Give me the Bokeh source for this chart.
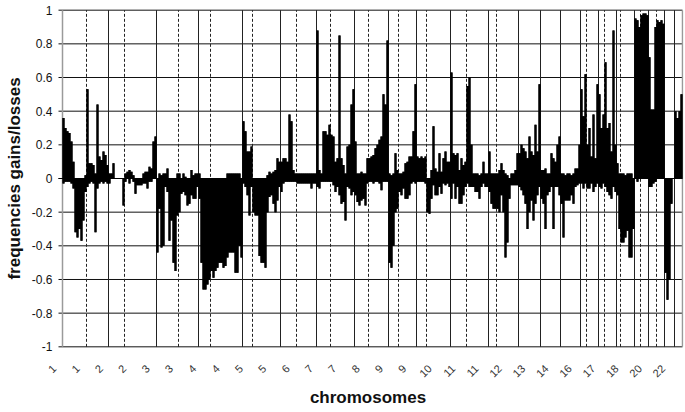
import numpy as np
from bokeh.plotting import figure
from bokeh.models import Range1d, FixedTicker
from bokeh.embed import file_html
from bokeh.resources import INLINE

# ---------------- data ----------------
arm_names = ["1p", "1q", "2p", "2q", "3p", "3q", "4p", "4q", "5p", "5q",
             "6p", "6q", "7p", "7q", "8p", "8q", "9p", "9q", "10p", "10q",
             "11p", "11q", "12p", "12q", "13q", "14q", "15q",
             "16p", "16q", "17p", "17q", "18p", "18q", "19p", "19q", "20p", "20q",
             "21q", "22q"]
arm_sizes = [12, 11, 8, 16, 11, 10, 6, 16, 5, 14,
             8, 10, 7, 12, 7, 10, 5, 9, 5, 12,
             8, 11, 4, 11, 11, 10, 10,
             3, 6, 3, 6, 2, 7, 3, 4, 4, 4,
             5, 4]

gains = [
    0.36, 0.30, 0.28, 0.27, 0.22, 0.10, 0.0, 0.0, 0.0, 0.0, 0.0, 0.02,          # 1p
    0.53, 0.09, 0.09, 0.08, 0.03, 0.44, 0.13, 0.11, 0.16, 0.14, 0.08,            # 1q
    0.03, 0.03, 0.09, 0.0, 0.0, 0.0, 0.0, 0.0,                                    # 2p
    0.03, 0.04, 0.05, 0.04, 0.02, 0.0, 0.0, 0.0, 0.0, 0.03, 0.04, 0.04, 0.07, 0.06, 0.22, 0.25,  # 2q
    0.0, 0.03, 0.02, 0.03, 0.03, 0.06, 0.0, 0.0, 0.0, 0.0, 0.03,                 # 3p
    0.03, 0.0, 0.03, 0.01, 0.0, 0.0, 0.05, 0.02, 0.03, 0.03,                     # 3q
    0.03, 0.0, 0.0, 0.0, 0.0, 0.0,                                               # 4p
    0.0, 0.0, 0.0, 0.0, 0.0, 0.0, 0.0, 0.0, 0.03, 0.03, 0.03, 0.03, 0.03, 0.03, 0.03, 0.0,  # 4q
    0.34, 0.28, 0.16, 0.16, 0.19,                                                # 5p
    0.0, 0.0, 0.0, 0.0, 0.0, 0.0, 0.0, 0.02, 0.04, 0.03, 0.04, 0.05, 0.12, 0.10,  # 5q
    0.10, 0.12, 0.12, 0.10, 0.38, 0.34, 0.05, 0.03,                              # 6p
    0.03, 0.03, 0.03, 0.03, 0.03, 0.03, 0.03, 0.03, 0.03, 0.03,                  # 6q
    0.88, 0.05, 0.03, 0.28, 0.28, 0.26, 0.32,                                    # 7p
    0.26, 0.25, 0.10, 0.12, 0.85, 0.12, 0.08, 0.03, 0.19, 0.20, 0.44, 0.53,      # 7q
    0.22, 0.03, 0.03, 0.04, 0.03, 0.03, 0.12,                                    # 8p
    0.12, 0.13, 0.14, 0.18, 0.20, 0.23, 0.25, 0.50, 0.44, 0.82,                  # 8q
    0.03, 0.02, 0.03, 0.15, 0.05,                                                # 9p
    0.03, 0.03, 0.04, 0.09, 0.10, 0.13, 0.13, 0.28, 0.56,                        # 9q
    0.13, 0.12, 0.13, 0.12, 0.13,                                                # 10p
    0.0, 0.0, 0.05, 0.31, 0.06, 0.04, 0.15, 0.04, 0.12, 0.16, 0.10, 0.10,        # 10q
    0.63, 0.15, 0.14, 0.15, 0.05, 0.12, 0.08, 0.10,                              # 11p
    0.55, 0.60, 0.20, 0.03, 0.03, 0.03, 0.02, 0.03, 0.10, 0.03, 0.03,            # 11q
    0.16, 0.03, 0.03, 0.03,                                                      # 12p
    0.03, 0.05, 0.09, 0.05, 0.03, 0.02, 0.0, 0.03, 0.03, 0.05, 0.15,             # 12q
    0.15, 0.20, 0.18, 0.16, 0.12, 0.25, 0.16, 0.14, 0.32, 0.16, 0.56,            # 13q
    0.05, 0.05, 0.06, 0.03, 0.03, 0.15, 0.12, 0.10, 0.20, 0.25,                  # 14q
    0.03, 0.03, 0.02, 0.03, 0.03, 0.02, 0.03, 0.06, 0.06, 0.20,                  # 15q
    0.53, 0.37, 0.62,                                                            # 16p
    0.20, 0.30, 0.13, 0.38, 0.12, 0.56,                                          # 16q
    0.50, 0.30, 0.38,                                                            # 17p
    0.69, 0.30, 0.33, 0.16, 0.88, 0.20,                                          # 17q
    0.09, 0.03,                                                                  # 18p
    0.03, 0.03, 0.02, 0.03, 0.03, 0.03, 0.0,                                     # 18q
    0.95, 0.94, 0.90,                                                            # 19p
    0.97, 0.98, 0.98, 0.97,                                                      # 19q
    0.72, 0.41, 0.41, 0.90,                                                      # 20p
    0.94, 0.93, 0.94, 0.92,                                                      # 20q
    0.0, 0.0, 0.0, 0.0, 0.0,                                                     # 21q
    0.40, 0.36, 0.40, 0.50,                                                      # 22q
]

losses = [
    -0.03, -0.02, -0.02, -0.02, -0.03, -0.06, -0.32, -0.35, -0.30, -0.37, -0.25, -0.08,  # 1p
    -0.05, -0.03, -0.02, -0.03, -0.32, -0.06, -0.03, -0.02, -0.03, -0.02, -0.03,         # 1q
    -0.03, 0.0, 0.0, 0.0, 0.0, 0.0, 0.0, -0.16,                                          # 2p
    -0.02, 0.0, -0.03, 0.0, -0.02, -0.09, -0.04, -0.04, -0.04, -0.03, -0.03, -0.06, -0.02, -0.02, 0.0, 0.0,  # 2q
    -0.44, -0.18, -0.41, -0.40, -0.05, -0.08, -0.37, -0.25, -0.50, -0.55, -0.22,        # 3p
    -0.20, -0.09, -0.08, -0.10, -0.16, -0.15, -0.10, -0.12, -0.12, -0.05,              # 3q
    -0.12, -0.50, -0.66, -0.66, -0.63, -0.60,                                           # 4p
    -0.55, -0.59, -0.55, -0.53, -0.50, -0.50, -0.53, -0.52, -0.47, -0.44, -0.44, -0.44, -0.56, -0.56, -0.40, -0.47,  # 4q
    -0.03, -0.05, -0.10, -0.22, -0.05,                                                  # 5p
    -0.20, -0.22, -0.22, -0.46, -0.50, -0.50, -0.53, -0.20, -0.11, -0.10, -0.15, -0.20, -0.13, -0.05,  # 5q
    -0.08, -0.03, -0.02, -0.02, -0.02, -0.02, -0.02, -0.02,                             # 6p
    -0.03, -0.03, -0.03, -0.03, -0.03, -0.03, -0.03, -0.06, -0.03, -0.03,              # 6q
    -0.05, -0.06, -0.02, -0.02, -0.02, -0.02, -0.02,                                    # 7p
    -0.02, -0.04, -0.08, -0.05, -0.10, -0.15, -0.14, -0.25, -0.05, -0.06, -0.10, -0.08,  # 7q
    -0.10, -0.14, -0.16, -0.13, -0.12, -0.16, -0.03,                                    # 8p
    -0.02, -0.02, -0.03, -0.02, -0.02, -0.03, -0.07, -0.02, -0.02, -0.02,              # 8q
    -0.50, -0.53, -0.40, -0.20, -0.18,                                                  # 9p
    -0.08, -0.10, -0.06, -0.12, -0.12, -0.10, -0.03, -0.02, -0.03,                      # 9q
    -0.02, -0.02, -0.02, -0.02, -0.03,                                                  # 10p
    -0.20, -0.21, -0.12, -0.04, -0.10, -0.10, -0.05, -0.09, -0.03, -0.04, -0.03, -0.05,  # 10q
    -0.12, -0.03, -0.12, -0.05, -0.15, -0.15, -0.10, -0.05,                             # 11p
    -0.03, -0.05, -0.05, -0.05, -0.08, -0.08, -0.12, -0.05, -0.03, -0.05, -0.05,       # 11q
    -0.08, -0.15, -0.18, -0.18,                                                         # 12p
    -0.18, -0.20, -0.10, -0.20, -0.47, -0.38, -0.12, -0.04, -0.04, -0.04, -0.04,       # 12q
    -0.05, -0.07, -0.10, -0.15, -0.30, -0.20, -0.13, -0.25, -0.15, -0.10, -0.05,       # 13q
    -0.12, -0.15, -0.30, -0.10, -0.08, -0.05, -0.30, -0.05, -0.05, -0.10,              # 14q
    -0.15, -0.35, -0.13, -0.13, -0.13, -0.10, -0.15, -0.05, -0.04, -0.03,              # 15q
    -0.03, -0.06, -0.03,                                                                # 16p
    -0.06, -0.06, -0.03, -0.08, -0.05, -0.03,                                           # 16q
    -0.05, -0.06, -0.03,                                                                # 17p
    -0.05, -0.08, -0.10, -0.12, -0.05, -0.08,                                           # 17q
    -0.10, -0.30,                                                                       # 18p
    -0.38, -0.38, -0.35, -0.31, -0.47, -0.47, -0.30,                                    # 18q
    0.0, -0.02, 0.0,                                                                    # 19p
    0.0, 0.0, 0.0, 0.0,                                                                 # 19q
    -0.05, -0.05, -0.03, -0.02,                                                         # 20p
    0.0, 0.0, 0.0, 0.0,                                                                 # 20q
    -0.56, -0.72, -0.60, -0.15, 0.0,                                                    # 21q
    0.0, 0.0, 0.0, 0.0,                                                                 # 22q
]

x_tick_labels = ["1", "1", "2", "2", "3", "3", "4", "4", "5", "5", "6", "7", "7", "8",
                 "9", "9", "10", "11", "11", "12", "13", "14", "16", "17", "18", "20", "22"]
y_ticks = [-1, -0.8, -0.6, -0.4, -0.2, 0, 0.2, 0.4, 0.6, 0.8, 1]
y_tick_labels = ["-1", "-0.8", "-0.6", "-0.4", "-0.2", "0", "0.2", "0.4", "0.6", "0.8", "1"]

# ---------------- derived ----------------
n = len(gains)
xc = np.arange(n) + 0.5
xe = np.arange(n + 1)
gains_e = list(gains) + [gains[-1]]
losses_e = list(losses) + [losses[-1]]
cum = np.cumsum([0] + arm_sizes)
chrom = [a[:-1] for a in arm_names]
solid_x, dashed_x = [], []
for i in range(1, len(arm_names)):
    (dashed_x if chrom[i] == chrom[i - 1] else solid_x).append(float(cum[i]))

# label anchors: evenly spaced, nudged by label length (right-aligned rotated text)
x_tick_pos = [round(-5.15 + 11.667 * i + 1.08 * len(lbl), 2)
              for i, lbl in enumerate(x_tick_labels)]

FONT = "Liberation Sans"

p = figure(width=685, height=412, output_backend="svg", toolbar_location=None,
           x_range=Range1d(-5, n + 0.5), y_range=Range1d(-1.01, 1.01),
           min_border_left=52, min_border_right=2, min_border_top=8, min_border_bottom=64)
p.outline_line_color = None
p.xgrid.visible = False
p.ygrid.visible = False

# horizontal grid lines
p.segment(x0=-2, y0=y_ticks, x1=n, y1=y_ticks, line_color="#111111", line_width=1)
# chromosome separators
p.segment(x0=solid_x, y0=-1, x1=solid_x, y1=1, line_color="#222222", line_width=1)
p.segment(x0=dashed_x, y0=-1, x1=dashed_x, y1=1, line_color="#222222", line_width=1,
          line_dash="3 2")
# frame sides
p.segment(x0=[0, n], y0=-1, x1=[0, n], y1=1, line_color="#9a9a9a", line_width=1.5)

# seamless backing for the columns, then the columns themselves
p.varea_step(x=xe, y1=0, y2=gains_e, step_mode="after", fill_color="black")
p.varea_step(x=xe, y1=losses_e, y2=0, step_mode="after", fill_color="black")
p.vbar(x=xc, width=1.02, top=gains, bottom=0, fill_color="black", line_color=None)
p.vbar(x=xc, width=1.02, top=0, bottom=losses, fill_color="black", line_color=None)
# zero line
p.segment(x0=-2, y0=0, x1=n, y1=0, line_color="black", line_width=1)

# y axis
ya = p.yaxis[0]
ya.ticker = FixedTicker(ticks=y_ticks)
ya.major_label_overrides = {t: l for t, l in zip(y_ticks, y_tick_labels)}
ya.axis_line_color = None
ya.major_tick_line_color = None
ya.minor_tick_line_color = None
ya.major_tick_out = 0
ya.major_tick_in = 0
ya.major_label_standoff = 0
ya.major_label_text_font = FONT
ya.major_label_text_font_size = "12px"
ya.major_label_text_color = "#111111"
ya.axis_label = "frequencies gains/losses"
ya.axis_label_text_font = FONT
ya.axis_label_text_font_size = "17px"
ya.axis_label_text_font_style = "bold"
ya.axis_label_text_color = "#111111"
ya.axis_label_standoff = 5

# x axis
xa = p.xaxis[0]
xa.ticker = FixedTicker(ticks=x_tick_pos)
xa.major_label_overrides = {t: l for t, l in zip(x_tick_pos, x_tick_labels)}
xa.major_label_orientation = np.pi / 4
xa.axis_line_color = None
xa.major_tick_line_color = None
xa.minor_tick_line_color = None
xa.major_tick_out = 0
xa.major_tick_in = 0
xa.major_label_standoff = 18
xa.major_label_text_font = FONT
xa.major_label_text_font_size = "11px"
xa.major_label_text_color = "#333333"
xa.axis_label = "chromosomes"
xa.axis_label_text_font = FONT
xa.axis_label_text_font_size = "17px"
xa.axis_label_text_font_style = "bold"
xa.axis_label_text_color = "#111111"
xa.axis_label_standoff = 4

open("out.html", "w").write(file_html(p, INLINE))
